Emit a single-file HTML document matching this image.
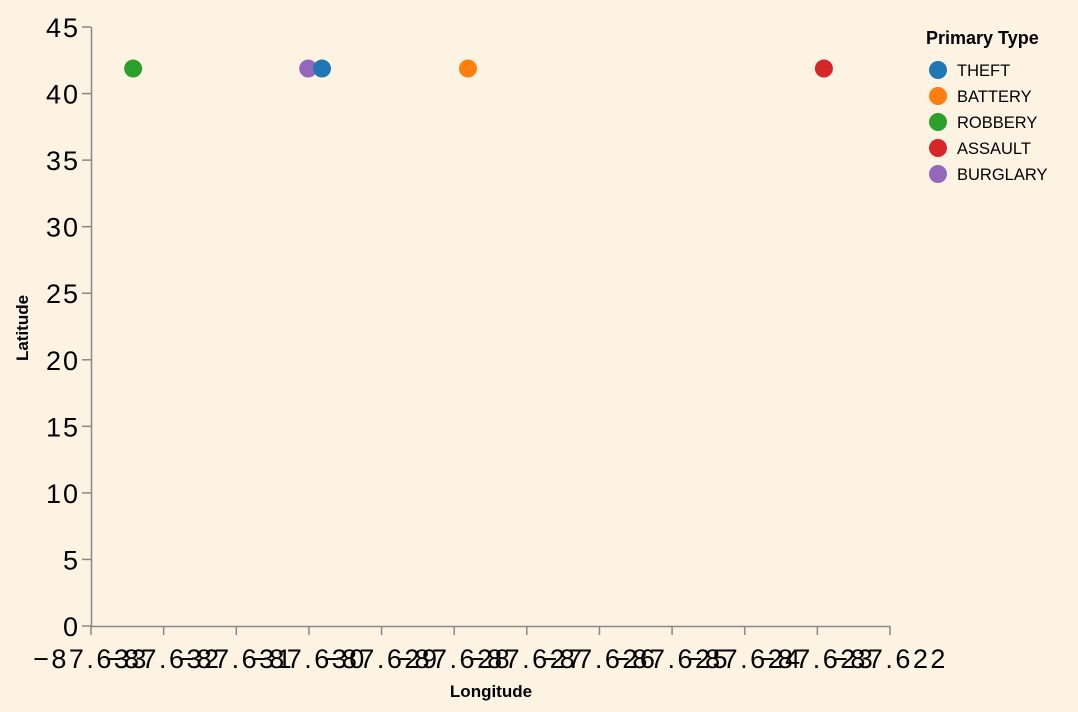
<!DOCTYPE html>
<html><head><meta charset="utf-8"><style>
html,body{margin:0;padding:0;background:#fdf3e3;}
svg{display:block;font-family:"Liberation Sans",Arial,sans-serif;}
</style></head><body>
<svg id="chart" width="1078" height="712" viewBox="0 0 1078 712">
<rect width="1078" height="712" fill="#fdf3e3"/>
<g id="axes"></g>
<g id="marks"></g>
<g id="legend"></g>
</svg>
<script>
const types=["THEFT","BATTERY","ROBBERY","ASSAULT","BURGLARY"];
const colors=["#1f77b4","#ff7f0e","#2ca02c","#d62728","#9467bd"];
const lons=[-87.62982,-87.62781,-87.63242,-87.62291,-87.63001];
const lats=[41.88,41.88,41.88,41.88,41.88];
const xTicks=[-87.633,-87.632,-87.631,-87.630,-87.629,-87.628,-87.627,-87.626,-87.625,-87.624,-87.623,-87.622];
const yTicks=[0,5,10,15,20,25,30,35,40,45];
const NS="http://www.w3.org/2000/svg";
const X0=91,X1=890,Y0=626,Y1=27;
const xs=v=>X0+(v-(-87.633))/(0.011)*(X1-X0);
const ys=v=>Y0-(v/45)*(Y0-Y1);
function mk(tag,attrs,parent,text){const e=document.createElementNS(NS,tag);for(const k in attrs)e.setAttribute(k,attrs[k]);if(text!==undefined)e.textContent=text;parent.appendChild(e);return e;}
const ax=document.getElementById('axes');
let l=mk('line',{x1:X0,y1:Y0+0.5,x2:X1,y2:Y0+0.5,stroke:'#888','stroke-width':1.5},ax);


l=mk('line',{x1:X0+0.5,y1:Y1,x2:X0+0.5,y2:Y0,stroke:'#888','stroke-width':1.5},ax);


xTicks.forEach(t=>{const x=xs(t);
 const tk=mk('line',{x1:x,y1:Y0,x2:x,y2:Y0+9,stroke:'#888','stroke-width':1.5},ax);
 
 
 const tx=mk('text',{x:x,y:Y0+42,'text-anchor':'middle','font-size':27,'letter-spacing':2.5,fill:'#000'},ax,(t<0?'\u2212':'')+Math.abs(t).toFixed(3));
 
 
});
yTicks.forEach(t=>{const y=ys(t);
 const tk=mk('line',{x1:X0-9,y1:y,x2:X0,y2:y,stroke:'#888','stroke-width':1.5},ax);
 
 
 const tx=mk('text',{x:X0-11,y:y+10,'text-anchor':'end','font-size':27,'letter-spacing':2,fill:'#000'},ax,String(t));
 
 
});
let tt=mk('text',{x:491,y:697,'text-anchor':'middle','font-size':17,'font-weight':'bold',fill:'#000'},ax,'Longitude');


tt=mk('text',{x:28,y:328,'text-anchor':'middle','font-size':17,'font-weight':'bold',fill:'#000',transform:'rotate(-90 28 328)'},ax,'Latitude');


const mg=document.getElementById('marks');
[2,4,0,1,3].forEach(i=>{
 const c=mk('circle',{cx:xs(lons[i]),cy:ys(lats[i]),r:9,fill:colors[i]},mg);
 
 
});
const lg=document.getElementById('legend');
const lt=mk('text',{x:926,y:44,'font-size':18,'font-weight':'bold',fill:'#000'},lg,'Primary Type');


types.forEach((t,i)=>{const y=70+i*26;
 const g=mk('g',{},lg);
 
 
 mk('circle',{cx:938,cy:y,r:9,fill:colors[i]},g);
 mk('text',{x:957,y:y+6,'font-size':16.5,fill:'#000'},g,t);
});
</script>
</body></html>
